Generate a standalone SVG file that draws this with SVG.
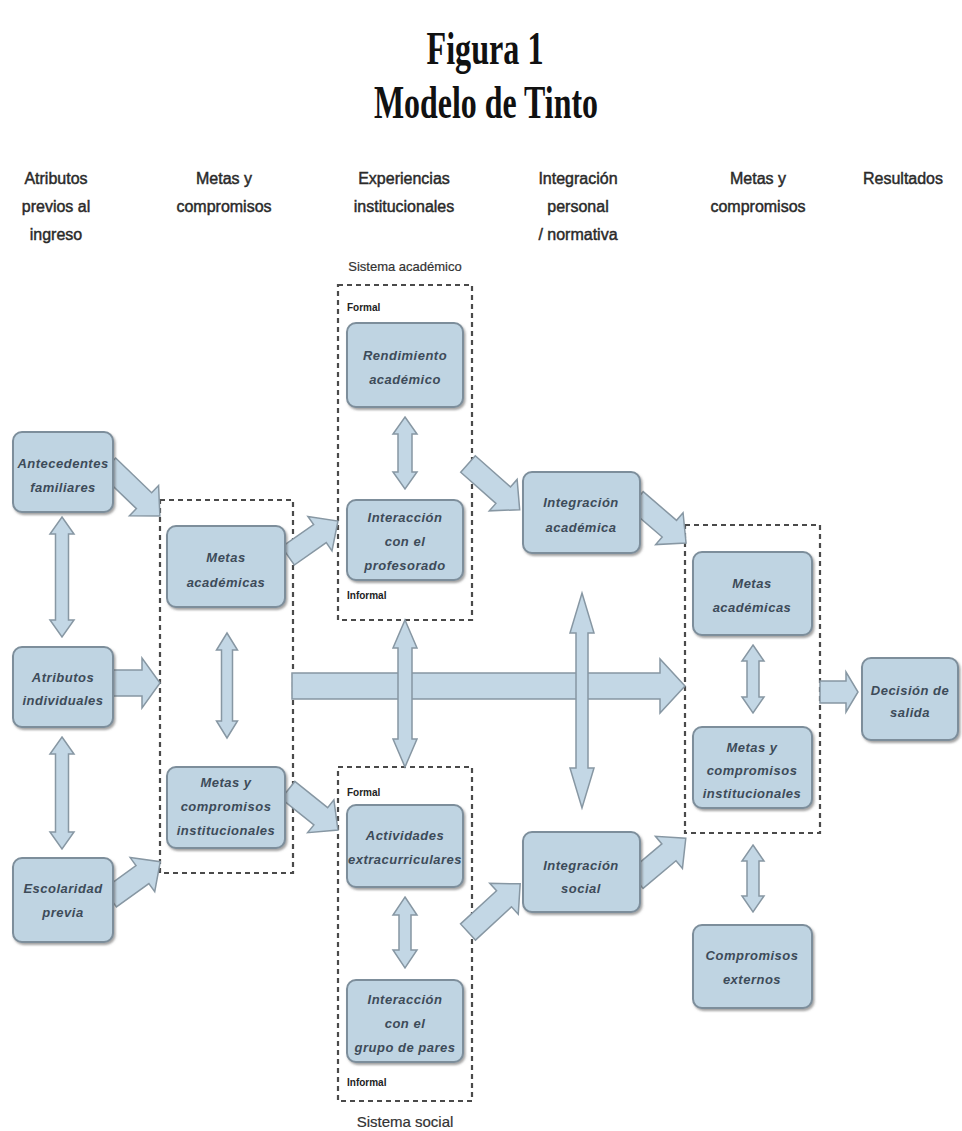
<svg xmlns="http://www.w3.org/2000/svg" width="962" height="1131" viewBox="0 0 962 1131">
<defs>
<filter id="sh" x="-10%" y="-10%" width="130%" height="130%">
<feDropShadow dx="1.5" dy="2" stdDeviation="1" flood-color="#555" flood-opacity="0.55"/>
</filter>
<style>
.title{font-family:"Liberation Serif",serif;font-weight:bold;font-size:46px;fill:#111;text-anchor:middle}
.hdr{font-family:"Liberation Sans",sans-serif;font-size:16px;fill:#2a2a2a;stroke:#2a2a2a;stroke-width:0.45;text-anchor:middle}
.sys{font-family:"Liberation Sans",sans-serif;font-size:13px;fill:#333;stroke:#333;stroke-width:0.2;text-anchor:middle}
.sys2{font-family:"Liberation Sans",sans-serif;font-size:15px;fill:#333;stroke:#333;stroke-width:0.2;text-anchor:middle}
.fi{font-family:"Liberation Sans",sans-serif;font-size:10px;font-weight:bold;fill:#222}
.dash{fill:none;stroke:#4a4a4a;stroke-width:2.2;stroke-dasharray:5 4}
.box{fill:#bfd4e2;stroke:#7d8e9b;stroke-width:2;filter:url(#sh)}
.nt{font-family:"Liberation Sans",sans-serif;font-style:italic;font-weight:bold;font-size:13px;letter-spacing:0.5px;fill:#3d4b59;text-anchor:middle}
.arr{fill:#c3d7e5;stroke:#8797a3;stroke-width:1.5;stroke-linejoin:miter}
</style>
</defs>
<rect width="962" height="1131" fill="#fff"/>

<g id="title">
<text class="title" x="485" y="64" textLength="117" lengthAdjust="spacingAndGlyphs">Figura 1</text>
<text class="title" x="486" y="118" textLength="224" lengthAdjust="spacingAndGlyphs">Modelo de Tinto</text>
</g>

<g id="headers">
<text class="hdr" x="56" y="184">Atributos</text>
<text class="hdr" x="56" y="212">previos al</text>
<text class="hdr" x="56" y="240">ingreso</text>
<text class="hdr" x="224" y="184">Metas y</text>
<text class="hdr" x="224" y="212">compromisos</text>
<text class="hdr" x="404" y="184">Experiencias</text>
<text class="hdr" x="404" y="212">institucionales</text>
<text class="hdr" x="578" y="184">Integración</text>
<text class="hdr" x="578" y="212">personal</text>
<text class="hdr" x="578" y="240">/ normativa</text>
<text class="hdr" x="758" y="184">Metas y</text>
<text class="hdr" x="758" y="212">compromisos</text>
<text class="hdr" x="903" y="184">Resultados</text>
</g>

<g id="grupo-metas-1">
<rect class="dash" x="160" y="500" width="133" height="373"/>
</g>
<g id="sistema-academico">
<rect class="dash" x="338" y="285" width="134" height="335"/>
<text class="sys" x="405" y="271">Sistema académico</text>
<text class="fi" x="347" y="311">Formal</text>
<text class="fi" x="347" y="599">Informal</text>
</g>
<g id="sistema-social">
<rect class="dash" x="338" y="767" width="134" height="334"/>
<text class="sys2" x="405" y="1127">Sistema social</text>
<text class="fi" x="347" y="796">Formal</text>
<text class="fi" x="347" y="1086">Informal</text>
</g>
<g id="grupo-metas-2">
<rect class="dash" x="685" y="525" width="135" height="308"/>
</g>

<g id="connectors">
<path class="arr" transform="translate(292,686)" d="M0,-13 H368 V-27 L393,0 L368,27 V13 H0 Z"/>
<path class="arr" transform="translate(108,466) rotate(43.9)" d="M0,-11 H50 V-21 L72,0 L50,21 V11 H0 Z"/>
<path class="arr" transform="translate(113,683)" d="M0,-13 H29 V-25 L47,0 L29,25 V13 H0 Z"/>
<path class="arr" transform="translate(110,898) rotate(-35.8)" d="M0,-11 H40 V-21 L62,0 L40,21 V11 H0 Z"/>
<path class="arr" transform="translate(288,556) rotate(-35)" d="M0,-11 H39 V-21 L61,0 L39,21 V11 H0 Z"/>
<path class="arr" transform="translate(288,790) rotate(38.7)" d="M0,-11 H42 V-21 L64,0 L42,21 V11 H0 Z"/>
<path class="arr" transform="translate(468,464) rotate(41.5)" d="M0,-11 H47 V-21 L69,0 L47,21 V11 H0 Z"/>
<path class="arr" transform="translate(468,932) rotate(-42.7)" d="M0,-11 H49 V-21 L71,0 L49,21 V11 H0 Z"/>
<path class="arr" transform="translate(636,500) rotate(40.7)" d="M0,-11 H44 V-21 L66,0 L44,21 V11 H0 Z"/>
<path class="arr" transform="translate(636,880) rotate(-40)" d="M0,-11 H43 V-21 L65,0 L43,21 V11 H0 Z"/>
<path class="arr" transform="translate(820,692)" d="M0,-11 H26 V-20 L38,0 L26,20 V11 H0 Z"/>
<path class="arr" d="M62,517 L74,534 L68.5,534 L68.5,620 L74,620 L62,637 L50,620 L55.5,620 L55.5,534 L50,534 Z"/>
<path class="arr" d="M62,737 L74,754 L68.5,754 L68.5,832 L74,832 L62,849 L50,832 L55.5,832 L55.5,754 L50,754 Z"/>
<path class="arr" d="M227,633 L237.5,650 L232.5,650 L232.5,721 L237.5,721 L227,738 L216.5,721 L221.5,721 L221.5,650 L216.5,650 Z"/>
<path class="arr" d="M405,417 L417,434 L412,434 L412,472 L417,472 L405,489 L393,472 L398,472 L398,434 L393,434 Z"/>
<path class="arr" d="M405,620 L417,648 L412,648 L412,739 L417,739 L405,767 L393,739 L398,739 L398,648 L393,648 Z"/>
<path class="arr" d="M582,593 L594,633 L588,633 L588,768 L594,768 L582,808 L570,768 L576,768 L576,633 L570,633 Z"/>
<path class="arr" d="M405,897 L417,915 L411,915 L411,950 L417,950 L405,968 L393,950 L399,950 L399,915 L393,915 Z"/>
<path class="arr" d="M753,645 L764,661 L759,661 L759,697 L764,697 L753,713 L742,697 L747,697 L747,661 L742,661 Z"/>
<path class="arr" d="M753,845 L764,861 L759,861 L759,896 L764,896 L753,912 L742,896 L747,896 L747,861 L742,861 Z"/>
</g>

<g id="antecedentes-familiares">
<rect class="box" x="13" y="432" width="100" height="80" rx="9"/>
<text class="nt" x="63" y="468">Antecedentes</text>
<text class="nt" x="63" y="492">familiares</text>
</g>
<g id="atributos-individuales">
<rect class="box" x="13" y="647" width="100" height="80" rx="9"/>
<text class="nt" x="63" y="682">Atributos</text>
<text class="nt" x="63" y="705">individuales</text>
</g>
<g id="escolaridad-previa">
<rect class="box" x="13" y="858" width="100" height="84" rx="9"/>
<text class="nt" x="63" y="893">Escolaridad</text>
<text class="nt" x="63" y="917">previa</text>
</g>
<g id="metas-academicas-1">
<rect class="box" x="167" y="526" width="118" height="81" rx="9"/>
<text class="nt" x="226" y="562">Metas</text>
<text class="nt" x="226" y="587">académicas</text>
</g>
<g id="metas-compromisos-1">
<rect class="box" x="167" y="767" width="118" height="81" rx="9"/>
<text class="nt" x="226" y="787">Metas y</text>
<text class="nt" x="226" y="811">compromisos</text>
<text class="nt" x="226" y="835">institucionales</text>
</g>
<g id="rendimiento-academico">
<rect class="box" x="347" y="323" width="116" height="84" rx="9"/>
<text class="nt" x="405" y="360">Rendimiento</text>
<text class="nt" x="405" y="384">académico</text>
</g>
<g id="interaccion-profesorado">
<rect class="box" x="347" y="500" width="116" height="80" rx="9"/>
<text class="nt" x="405" y="522">Interacción</text>
<text class="nt" x="405" y="546">con el</text>
<text class="nt" x="405" y="570">profesorado</text>
</g>
<g id="integracion-academica">
<rect class="box" x="523" y="472" width="117" height="81" rx="9"/>
<text class="nt" x="581" y="507">Integración</text>
<text class="nt" x="581" y="532">académica</text>
</g>
<g id="actividades-extracurriculares">
<rect class="box" x="347" y="805" width="116" height="82" rx="9"/>
<text class="nt" x="405" y="840">Actividades</text>
<text class="nt" x="405" y="864">extracurriculares</text>
</g>
<g id="interaccion-pares">
<rect class="box" x="347" y="980" width="116" height="82" rx="9"/>
<text class="nt" x="405" y="1004">Interacción</text>
<text class="nt" x="405" y="1028">con el</text>
<text class="nt" x="405" y="1052">grupo de pares</text>
</g>
<g id="integracion-social">
<rect class="box" x="523" y="832" width="117" height="80" rx="9"/>
<text class="nt" x="581" y="870">Integración</text>
<text class="nt" x="581" y="893">social</text>
</g>
<g id="metas-academicas-2">
<rect class="box" x="693" y="552" width="119" height="83" rx="9"/>
<text class="nt" x="752" y="588">Metas</text>
<text class="nt" x="752" y="612">académicas</text>
</g>
<g id="metas-compromisos-2">
<rect class="box" x="693" y="727" width="119" height="81" rx="9"/>
<text class="nt" x="752" y="752">Metas y</text>
<text class="nt" x="752" y="775">compromisos</text>
<text class="nt" x="752" y="798">institucionales</text>
</g>
<g id="decision-salida">
<rect class="box" x="862" y="658" width="96" height="82" rx="9"/>
<text class="nt" x="910" y="695">Decisión de</text>
<text class="nt" x="910" y="717">salida</text>
</g>
<g id="compromisos-externos">
<rect class="box" x="693" y="925" width="119" height="83" rx="9"/>
<text class="nt" x="752" y="960">Compromisos</text>
<text class="nt" x="752" y="984">externos</text>
</g>
</svg>
